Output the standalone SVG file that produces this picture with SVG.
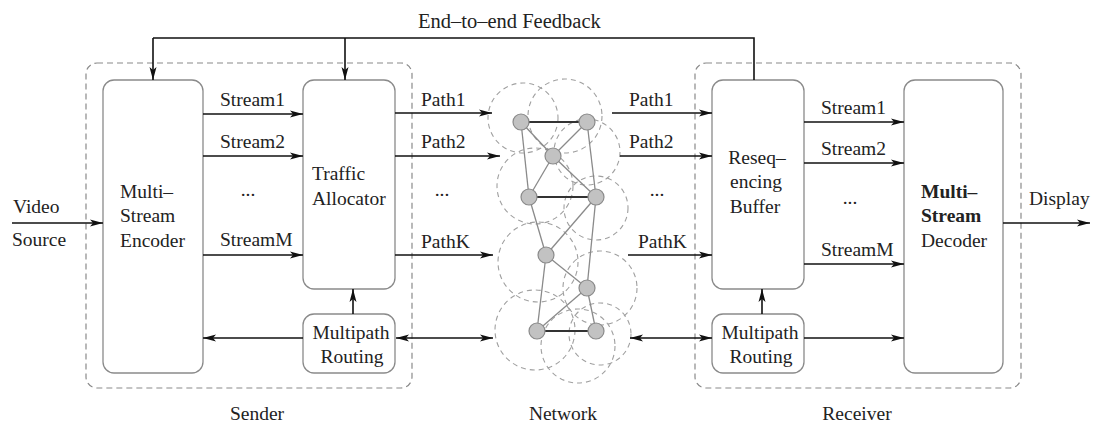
<svg xmlns="http://www.w3.org/2000/svg" width="1093" height="423" viewBox="0 0 1093 423">
<defs>
<style>
text{font-family:"Liberation Serif","Times New Roman",serif;font-size:19.5px;fill:#222}
.mid{text-anchor:middle}
.b{font-weight:bold}
.group{fill:none;stroke:#8a8a8a;stroke-width:1.2;stroke-dasharray:6 4}
.box{fill:#fff;stroke:#8a8a8a;stroke-width:1.3}
.arr{fill:none;stroke:#111;stroke-width:1.6;marker-end:url(#ah)}
.bi{fill:none;stroke:#111;stroke-width:1.6;marker-end:url(#ah);marker-start:url(#ah)}
.ln{fill:none;stroke:#111;stroke-width:1.6}
.cloud{fill:none;stroke:#a0a0a0;stroke-width:1.1;stroke-dasharray:5 4}
.e{stroke:#8a8a8a;stroke-width:1.3}
.ed{stroke:#333;stroke-width:1.8}
.nd{fill:#c2c2c2;stroke:#8a8a8a;stroke-width:1.2}
</style>
<marker id="ah" markerUnits="userSpaceOnUse" markerWidth="14" markerHeight="10" refX="13" refY="4" orient="auto-start-reverse" viewBox="0 0 14 8">
<path d="M0,0.5 L13,4 L0,7.5 L3,4 z" fill="#111"/>
</marker>
</defs>

<g id="sender">
<rect class="group" x="86" y="63" width="326" height="325" rx="11"/>
<text class="mid" x="257" y="420">Sender</text>
</g>
<g id="receiver">
<rect class="group" x="695" y="63" width="326" height="325" rx="11"/>
<text class="mid" x="857" y="420">Receiver</text>
</g>

<g id="encoder">
<rect class="box" x="103" y="80" width="100" height="293" rx="11"/>
<text x="120" y="198">Multi–</text>
<text x="120" y="222">Stream</text>
<text x="120" y="247">Encoder</text>
</g>
<g id="allocator">
<rect class="box" x="303" y="80" width="92" height="209" rx="11"/>
<text x="312" y="180">Traffic</text>
<text x="312" y="205">Allocator</text>
</g>
<g id="sender-routing">
<rect class="box" x="303" y="314" width="92" height="59" rx="11"/>
<text class="mid" x="351" y="339">Multipath</text>
<text class="mid" x="352" y="363">Routing</text>
</g>
<g id="buffer">
<rect class="box" x="712" y="80" width="92" height="209" rx="11"/>
<text class="mid" x="757" y="164">Reseq–</text>
<text class="mid" x="756" y="188">encing</text>
<text class="mid" x="755" y="213">Buffer</text>
</g>
<g id="receiver-routing">
<rect class="box" x="712" y="314" width="92" height="59" rx="11"/>
<text class="mid" x="760" y="339">Multipath</text>
<text class="mid" x="761" y="363">Routing</text>
</g>
<g id="decoder">
<rect class="box" x="904" y="80" width="99" height="293" rx="11"/>
<text class="b" x="921" y="198">Multi–</text>
<text class="b" x="921" y="222">Stream</text>
<text x="921" y="247">Decoder</text>
</g>

<g id="network">
<circle class="cloud" cx="523" cy="118" r="35"/>
<circle class="cloud" cx="565" cy="116" r="37"/>
<circle class="cloud" cx="587" cy="152" r="33"/>
<circle class="cloud" cx="535" cy="186" r="38"/>
<circle class="cloud" cx="596" cy="208" r="32"/>
<circle class="cloud" cx="538" cy="262" r="40"/>
<circle class="cloud" cx="600" cy="288" r="37"/>
<circle class="cloud" cx="535" cy="330" r="40"/>
<circle class="cloud" cx="578" cy="346" r="37"/>
<circle class="cloud" cx="600" cy="334" r="31"/>
<line class="ed" x1="521" y1="122" x2="587" y2="122"/>
<line class="e" x1="521" y1="122" x2="553" y2="156"/>
<line class="e" x1="587" y1="122" x2="553" y2="156"/>
<line class="e" x1="521" y1="122" x2="529" y2="197"/>
<line class="e" x1="587" y1="122" x2="596" y2="197"/>
<line class="e" x1="553" y1="156" x2="529" y2="197"/>
<line class="e" x1="553" y1="156" x2="596" y2="197"/>
<line class="ed" x1="529" y1="197" x2="596" y2="197"/>
<line class="e" x1="529" y1="197" x2="546" y2="255"/>
<line class="e" x1="596" y1="197" x2="546" y2="255"/>
<line class="e" x1="596" y1="197" x2="587" y2="288"/>
<line class="e" x1="546" y1="255" x2="587" y2="288"/>
<line class="e" x1="546" y1="255" x2="537" y2="331"/>
<line class="e" x1="587" y1="288" x2="537" y2="331"/>
<line class="e" x1="587" y1="288" x2="596" y2="331"/>
<line class="ed" x1="537" y1="331" x2="596" y2="331"/>
<circle class="nd" cx="521" cy="122" r="8"/>
<circle class="nd" cx="587" cy="122" r="8"/>
<circle class="nd" cx="553" cy="156" r="8"/>
<circle class="nd" cx="529" cy="197" r="8"/>
<circle class="nd" cx="596" cy="197" r="8"/>
<circle class="nd" cx="546" cy="255" r="8"/>
<circle class="nd" cx="587" cy="288" r="8"/>
<circle class="nd" cx="537" cy="331" r="8"/>
<circle class="nd" cx="596" cy="331" r="8"/>
<text class="mid" x="563" y="420">Network</text>
</g>

<g id="connectors">
<polyline class="ln" points="153,38 754,38 754,80"/>
<line class="arr" x1="153" y1="38" x2="153" y2="80"/>
<line class="arr" x1="345" y1="38" x2="345" y2="80"/>
<text x="418" y="28" style="font-size:20.5px">End–to–end Feedback</text>

<line class="arr" x1="12" y1="223" x2="103" y2="223"/>
<text x="13" y="213">Video</text>
<text x="12" y="246">Source</text>

<line class="arr" x1="203" y1="114" x2="303" y2="114"/>
<line class="arr" x1="203" y1="156" x2="303" y2="156"/>
<line class="arr" x1="203" y1="255" x2="303" y2="255"/>
<text x="220" y="106">Stream1</text>
<text x="220" y="148">Stream2</text>
<text class="mid" x="248" y="196">...</text>
<text x="220" y="246">StreamM</text>

<line class="arr" x1="395" y1="113" x2="492" y2="113"/>
<line class="arr" x1="395" y1="156" x2="500" y2="156"/>
<line class="arr" x1="395" y1="255" x2="493" y2="255"/>
<text x="421" y="106">Path1</text>
<text x="421" y="148">Path2</text>
<text class="mid" x="442" y="196">...</text>
<text x="421" y="248">PathK</text>

<line class="bi" x1="396" y1="338" x2="493" y2="338"/>
<line class="arr" x1="353" y1="314" x2="353" y2="289"/>
<line class="arr" x1="303" y1="338" x2="203" y2="338"/>

<line class="arr" x1="612" y1="113" x2="712" y2="113"/>
<line class="arr" x1="620" y1="156" x2="712" y2="156"/>
<line class="arr" x1="628" y1="255" x2="712" y2="255"/>
<text x="629" y="106">Path1</text>
<text x="629" y="148">Path2</text>
<text class="mid" x="657" y="196">...</text>
<text x="638" y="248">PathK</text>

<line class="bi" x1="630" y1="338" x2="712" y2="338"/>
<line class="arr" x1="762" y1="314" x2="762" y2="289"/>

<line class="arr" x1="804" y1="122" x2="904" y2="122"/>
<line class="arr" x1="804" y1="163" x2="904" y2="163"/>
<line class="arr" x1="804" y1="264" x2="904" y2="264"/>
<line class="arr" x1="804" y1="338" x2="904" y2="338"/>
<text x="821" y="114">Stream1</text>
<text x="821" y="155">Stream2</text>
<text class="mid" x="850" y="204">...</text>
<text x="821" y="256">StreamM</text>

<line class="arr" x1="1003" y1="223" x2="1090" y2="223"/>
<text x="1029" y="205">Display</text>
</g>
</svg>
